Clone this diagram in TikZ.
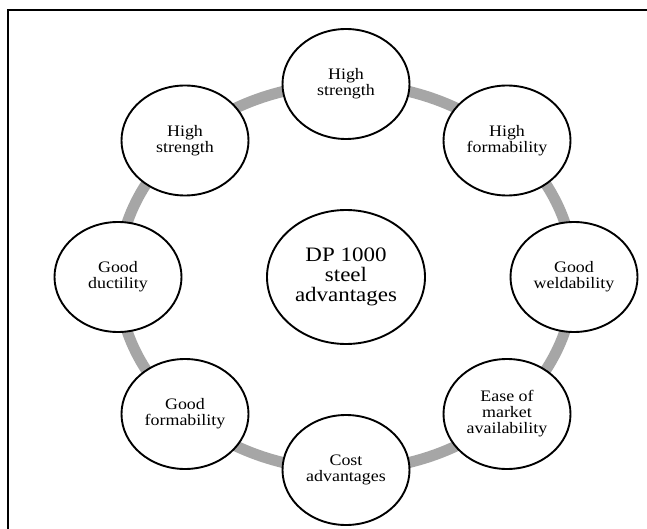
\documentclass[tikz,border=0pt]{standalone}
\usepackage{fontspec}
\setmainfont{Liberation Serif}[FakeStretch=1.12]
\usetikzlibrary{shapes.geometric,calc}
\definecolor{ringgray}{HTML}{A6A6A6}
\tikzset{
  adv/.style={ellipse, draw=black, line width=1.9pt, fill=white, inner sep=0pt,
    minimum width=127pt, minimum height=110pt, align=center,
    font=\fontsize{16}{16}\selectfont},
  hub/.style={adv, minimum width=158pt, minimum height=134pt,
    font=\fontsize{20.5}{20}\selectfont},
  ring/.style={draw=ringgray, line width=11pt},
  frame/.style={draw=black, line width=1.9pt}
}
\begin{document}
\begin{tikzpicture}[x=1pt,y=-1pt]
\useasboundingbox (0,0) rectangle (647,529);
\coordinate (fbl) at (8,535);
\coordinate (ftl) at (8,10);
\coordinate (ftr) at (655,10);
\draw[frame] (fbl) -- (ftl) -- (ftr);
\coordinate (c) at (346,277);
\draw[ring] (c) ellipse [x radius=228, y radius=193];
\node[hub] (hub) at (c) {DP 1000\\steel\\advantages};
\node[adv] (n1) at ($(c)+(0,-193)$) {High\\strength};
\node[adv] (n2) at ($(c)+(161,-136.5)$) {High\\formability};
\node[adv] (n3) at ($(c)+(228,0)$) {Good\\weldability};
\node[adv] (n4) at ($(c)+(161,137)$) {Ease of\\market\\availability};
\node[adv] (n5) at ($(c)+(0,193)$) {Cost\\advantages};
\node[adv] (n6) at ($(c)+(-161,137)$) {Good\\formability};
\node[adv] (n7) at ($(c)+(-228,0)$) {Good\\ductility};
\node[adv] (n8) at ($(c)+(-161,-136.5)$) {High\\strength};
\end{tikzpicture}
\end{document}
